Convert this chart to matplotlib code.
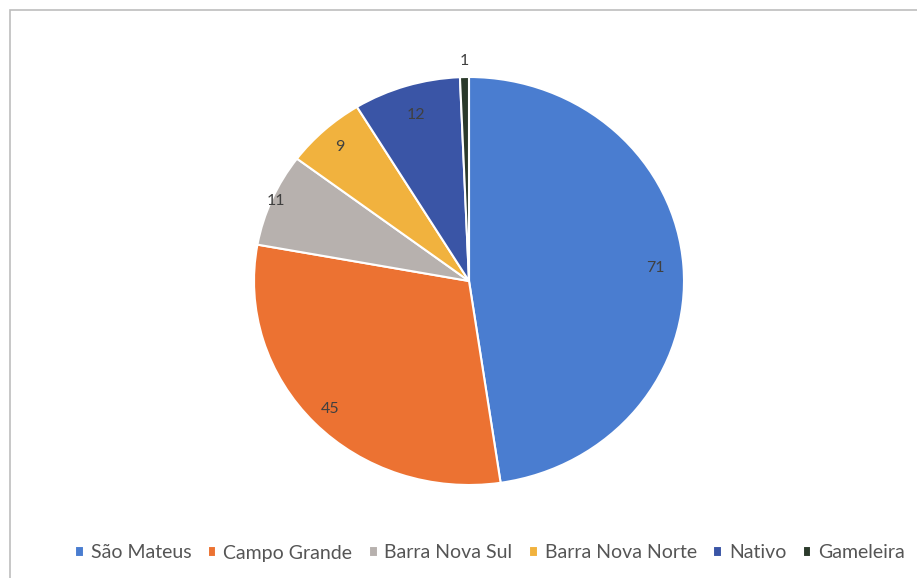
import matplotlib.pyplot as plt
import numpy as np
from matplotlib.patches import Rectangle

plt.rcParams['font.family'] = ['Lato', 'DejaVu Sans']

# data
categories = ["São Mateus", "Campo Grande", "Barra Nova Sul", "Barra Nova Norte", "Nativo", "Gameleira"]
values = [71, 45, 11, 9, 12, 1]

# styles
colors = ["#4a7dd0", "#ec7232", "#b7b1ae", "#f1b23e", "#3a55a6", "#2b3a2b"]
label_r = [0.87, 0.90, 0.98, 0.89, 0.85, 1.08]

W, H = 917, 578
fig = plt.figure(figsize=(W / 100, H / 100), dpi=100)

# chart frame
fig.patches.append(Rectangle((10 / W, -0.05), 1.2, 1 - 10 / H + 0.05, transform=fig.transFigure,
                             fill=False, edgecolor="#bdbdbd", linewidth=1.2))

# pie is slightly wider than tall in the scan
cx, cy, rx, ry = 469, 281, 215, 204
ax = fig.add_axes([(cx - rx) / W, (H - cy - ry) / H, 2 * rx / W, 2 * ry / H])
wedges, _ = ax.pie(values, colors=colors, startangle=90, counterclock=False, radius=1,
                   wedgeprops={"edgecolor": "white", "linewidth": 1.5})
ax.set_xlim(-1, 1)
ax.set_ylim(-1, 1)
ax.set_aspect("auto")

# data labels
for w, v, f in zip(wedges, values, label_r):
    ang = np.deg2rad((w.theta1 + w.theta2) / 2)
    ax.text(f * np.cos(ang), f * np.sin(ang), str(v), ha="center", va="center",
            fontsize=11.5, color="#404040")

fig.legend(wedges, categories, loc="center", bbox_to_anchor=(490 / W, 1 - 553 / H),
           ncol=6, frameon=False, fontsize=14, handlelength=0.45, handleheight=0.45,
           handletextpad=0.35, columnspacing=0.85, labelcolor="#555555")

fig.savefig("out.png", dpi=100)
